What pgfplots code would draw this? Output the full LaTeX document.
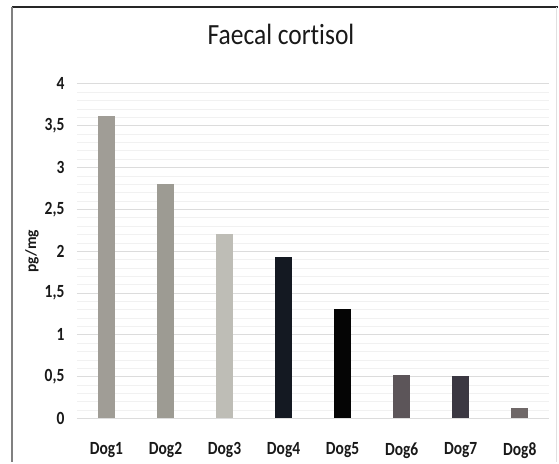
\documentclass[border=0pt]{standalone}
\usepackage{pgfplots}
\pgfplotsset{compat=1.18}
\usepackage{fontspec}
\setmainfont{Carlito}[Ligatures={NoCommon}]

\definecolor{cA}{HTML}{A09D96}
\definecolor{cB}{HTML}{9D9B93}
\definecolor{cC}{HTML}{BEBDB6}
\definecolor{cD}{HTML}{141922}
\definecolor{cE}{HTML}{050505}
\definecolor{cF}{HTML}{5C5559}
\definecolor{cG}{HTML}{3B3842}
\definecolor{cH}{HTML}{6F6868}
\definecolor{majgrid}{HTML}{DCDCDC}
\definecolor{mingrid}{HTML}{F1F1F1}

\begin{document}
\begin{tikzpicture}[x=1pt,y=1pt]
% page size = reference pixels
\path (0,0) rectangle (559,463);
% frame of the chart
\draw[color=black!85, line width=1.5pt] (12,456) -- (559,456);
\draw[color=black!50, line width=2pt] (12,456) -- (12,0);
\draw[color=black!12, line width=1pt] (557,456) -- (557,0);

\begin{axis}[
    at={(77pt,44pt)}, anchor=south west,
    scale only axis,
    width=473pt, height=335pt,
    xmin=0.5, xmax=8.5,
    ymin=0, ymax=4,
    ytick={0,0.5,...,4},
    minor y tick num=4,
    xtick={1,...,8},
    xticklabels={Dog1,Dog2,Dog3,Dog4,Dog5,Dog6,Dog7,Dog8},
    ymajorgrids, yminorgrids,
    major grid style={majgrid, line width=0.9pt},
    minor grid style={mingrid, line width=0.6pt},
    axis line style={draw=none},
    tick style={draw=none},
    /pgf/number format/assume math mode=true,
    /pgf/number format/use comma,
    /pgf/number format/fixed,
    ticklabel style={font=\bfseries\fontsize{15.5}{15.5}\selectfont, text=black!90,
        yscale=1.2, transform shape},
    yticklabel style={xshift=-9pt},
    xticklabel style={yshift=-13pt},
    ylabel={pg/mg},
    ylabel style={at={(axis description cs:-0.095,0.5)}, anchor=center,
        font=\bfseries\fontsize{15.5}{15.5}\selectfont, text=black!90},
    title={Faecal cort\kern0pt isol},
    title style={at={(axis description cs:0.432,1.0985)}, anchor=base,
        font=\fontsize{25.5}{25.5}\selectfont, text=black!90,
        yscale=1.15, transform shape},
    ybar, bar width=17pt,
]
\addplot[fill=cA, draw=none, bar shift=0pt] coordinates {(1,3.62)};
\addplot[fill=cB, draw=none, bar shift=0pt] coordinates {(2,2.80)};
\addplot[fill=cC, draw=none, bar shift=0pt] coordinates {(3,2.205)};
\addplot[fill=cD, draw=none, bar shift=0pt] coordinates {(4,1.93)};
\addplot[fill=cE, draw=none, bar shift=0pt] coordinates {(5,1.31)};
\addplot[fill=cF, draw=none, bar shift=0pt] coordinates {(6,0.525)};
\addplot[fill=cG, draw=none, bar shift=0pt] coordinates {(7,0.505)};
\addplot[fill=cH, draw=none, bar shift=0pt] coordinates {(8,0.12)};
\end{axis}
\end{tikzpicture}
\end{document}
